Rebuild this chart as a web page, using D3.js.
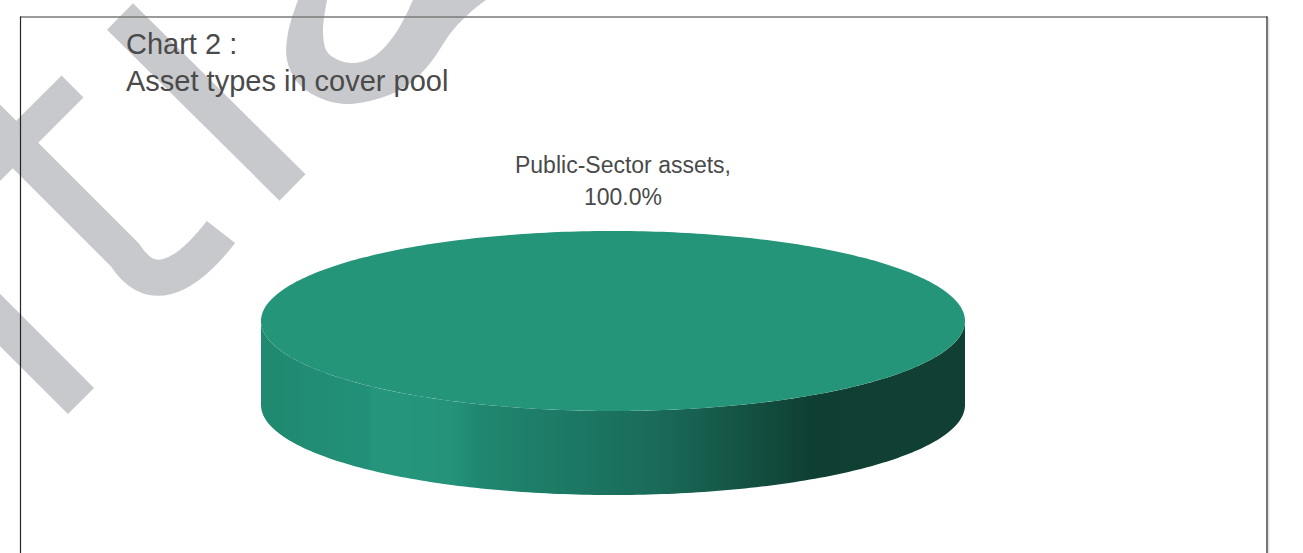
<!DOCTYPE html>
<html>
<head>
    <script src="https://cdnjs.cloudflare.com/ajax/libs/d3/7.8.5/d3.min.js"></script>
    <style>
        body { margin: 0; background: #fff; }
        .title { font-family: "Liberation Sans", Arial, sans-serif; font-size: 29px; fill: #4a4a4a; }
        .slice-label { font-family: "Liberation Sans", Arial, sans-serif; font-size: 23px; fill: #4a4a4a; }
        .watermark { fill: none; stroke: #c8c9cc; stroke-linecap: butt; stroke-linejoin: round; }
    </style>
</head>
<body>
    <svg width="1303" height="553"></svg>
    <script>
        // Data
        const categories = ["Public-Sector assets"];
        const values = [100.0];
        const titleLines = ["Chart 2 :", "Asset types in cover pool"];
        const colors = ["#25957a"];

        const svg = d3.select("svg");

        svg.append("rect")
            .attr("width", 1303)
            .attr("height", 553)
            .attr("fill", "#fff");

        // Background watermark (partial rotated letters)
        const wm = svg.append("g");
        const strokes = [
            { d: "M120,16.5 L292.5,187.5", w: 37 },
            { d: "M-120,200 L81,401", w: 37 },
            { d: "M72.5,86.5 L-40,199", w: 31 },
            { d: "M-80,50 L125,255 Q160,310 221,232", w: 36 }
        ];
        wm.selectAll("path.wm")
            .data(strokes)
            .enter()
            .append("path")
            .attr("class", "watermark")
            .attr("d", d => d.d)
            .attr("stroke-width", d => d.w);

        // the ring letter at the top
        const smooth = d3.line().curve(d3.curveCatmullRom);
        const ringOuter = [[300, -5], [298, 0], [288, 33], [287, 60], [298, 83], [320, 98], [350, 104],
            [400, 90], [427, 67], [453, 30], [473, 10], [490, -3]];
        const ringInner = [[328, -5], [327, 0], [323, 33], [328, 53], [350, 63], [373, 57],
            [393, 37], [407, 13], [414, -3]];
        wm.append("path")
            .attr("d", smooth(ringOuter) + "L490,-40L300,-40Z" + smooth(ringInner) + "L414,-40L328,-40Z")
            .attr("fill", "#c8c9cc")
            .attr("fill-rule", "evenodd");

        // Chart frame
        svg.append("line")
            .attr("x1", 20).attr("x2", 1267.5)
            .attr("y1", 17).attr("y2", 17)
            .attr("stroke", "#7a7a7a").attr("stroke-width", 1.5);
        svg.append("line")
            .attr("x1", 20.5).attr("x2", 20.5)
            .attr("y1", 16.5).attr("y2", 553)
            .attr("stroke", "#262626").attr("stroke-width", 1.2);
        svg.append("line")
            .attr("x1", 1267).attr("x2", 1267)
            .attr("y1", 16.5).attr("y2", 553)
            .attr("stroke", "#1a1a1a").attr("stroke-width", 1.2);
        svg.append("line")
            .attr("x1", 1268.8).attr("x2", 1268.8)
            .attr("y1", 18).attr("y2", 553)
            .attr("stroke", "#d8d8d8").attr("stroke-width", 1);

        // Title
        svg.append("text")
            .attr("class", "title")
            .selectAll("tspan")
            .data(titleLines)
            .enter()
            .append("tspan")
            .attr("x", 126)
            .attr("y", (d, i) => 54 + i * 37)
            .text(d => d);

        // 3D pie geometry
        const cx = 613, cy = 321, rx = 352, ry = 90, depth = 84;

        const pie = d3.pie().sort(null).startAngle(0).endAngle(2 * Math.PI);
        const arcs = pie(values);
        const total = d3.sum(values);

        const px = a => cx + rx * Math.sin(a);
        const py = (a, off) => cy - ry * Math.cos(a) + off;

        const line = d3.line();

        function rim(a0, a1, off) {
            const n = Math.max(2, Math.ceil((a1 - a0) / (Math.PI / 180)));
            return d3.range(n + 1).map(i => {
                const a = a0 + (a1 - a0) * i / n;
                return [px(a), py(a, off)];
            });
        }

        function topPath(d) {
            const full = d.endAngle - d.startAngle >= 2 * Math.PI - 1e-6;
            const pts = rim(d.startAngle, d.endAngle, 0);
            if (!full) pts.unshift([cx, cy]);
            return line(pts) + "Z";
        }

        function sidePath(d) {
            const a0 = Math.max(d.startAngle, Math.PI / 2);
            const a1 = Math.min(d.endAngle, 3 * Math.PI / 2);
            if (a1 <= a0) return null;
            const upper = rim(a0, a1, 0);
            const lower = rim(a0, a1, depth).reverse();
            return line(upper.concat(lower)) + "Z";
        }

        // Side shading gradient
        const defs = svg.append("defs");
        const grad = defs.append("linearGradient")
            .attr("id", "sideGrad")
            .attr("x1", 0).attr("x2", 1)
            .attr("y1", 0).attr("y2", 0);
        const stops = [
            [0, "#20896f"], [0.15, "#229078"], [0.16, "#25967b"],
            [0.27, "#24937a"], [0.31, "#20876f"], [0.45, "#1c7763"],
            [0.56, "#1a6b59"], [0.65, "#165a4a"], [0.78, "#0f3f33"], [1, "#113f34"]
        ];
        grad.selectAll("stop")
            .data(stops)
            .enter()
            .append("stop")
            .attr("offset", d => d[0])
            .attr("stop-color", d => d[1]);

        const pieG = svg.append("g");

        pieG.selectAll("path.side")
            .data(arcs)
            .enter()
            .append("path")
            .attr("class", "side")
            .attr("d", sidePath)
            .attr("fill", "url(#sideGrad)");

        pieG.selectAll("path.top")
            .data(arcs)
            .enter()
            .append("path")
            .attr("class", "top")
            .attr("d", topPath)
            .attr("fill", (d, i) => colors[i]);

        // Data label
        const pct = d3.format(".1%");
        const label = svg.append("g").selectAll("text")
            .data(arcs)
            .enter()
            .append("text")
            .attr("class", "slice-label")
            .attr("text-anchor", "middle");
        label.append("tspan")
            .attr("x", cx + 10)
            .attr("y", cy - ry - 58)
            .text((d, i) => categories[i] + ",");
        label.append("tspan")
            .attr("x", cx + 10)
            .attr("y", cy - ry - 26)
            .text(d => pct(d.value / total));
    </script>
</body>
</html>
